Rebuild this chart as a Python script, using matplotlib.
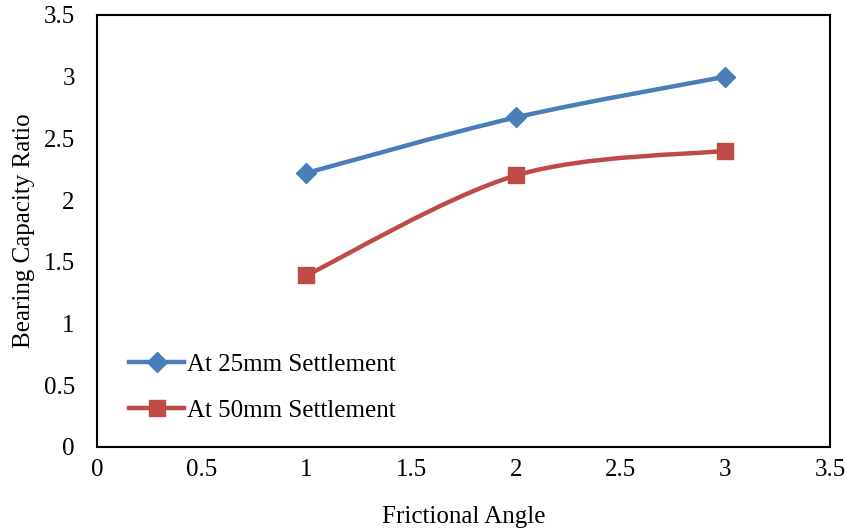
import numpy as np
import matplotlib
matplotlib.use("Agg")
import matplotlib.pyplot as plt
from matplotlib.path import Path
from matplotlib.patches import PathPatch
from matplotlib.lines import Line2D

plt.rcParams['font.family'] = ['Liberation Serif', 'DejaVu Serif']

angle = [1, 2, 3]
ratio_25mm = [2.22, 2.67, 3.0]
ratio_50mm = [1.39, 2.2, 2.4]
series_names = ["At 25mm Settlement", "At 50mm Settlement"]
xticks = [0, 0.5, 1, 1.5, 2, 2.5, 3, 3.5]
yticks = [0, 0.5, 1, 1.5, 2, 2.5, 3, 3.5]

BLUE = "#4A7EBB"
RED = "#BE4B48"
FS = 18
LW = 3.2


def smooth_path(xs, ys):
    """Catmull-Rom style cubic Bezier through the points (spreadsheet smoothing)."""
    pts = np.column_stack([xs, ys]).astype(float)
    n = len(pts)
    verts = [pts[0]]
    codes = [Path.MOVETO]
    for i in range(n - 1):
        p0 = pts[i - 1] if i > 0 else pts[i]
        p1 = pts[i]
        p2 = pts[i + 1]
        p3 = pts[i + 2] if i + 2 < n else pts[i + 1]
        c1 = p1 + (p2 - p0) / 6.0
        c2 = p2 - (p3 - p1) / 6.0
        verts += [c1, c2, p2]
        codes += [Path.CURVE4] * 3
    return Path(verts, codes)


fig = plt.figure(figsize=(8.48, 5.31), dpi=100)
ax = fig.add_axes([0.1144, 0.1582, 0.8644, 0.8136])

for ys, color, marker, ms in [(ratio_25mm, BLUE, "D", 10), (ratio_50mm, RED, "s", 12)]:
    ax.add_patch(PathPatch(smooth_path(angle, ys), facecolor="none",
                           edgecolor=color, lw=LW, capstyle="round", zorder=2))
    ax.plot(angle, ys, linestyle="none", marker=marker, ms=ms,
            color=color, mec=color, zorder=3)

ax.set_xlim(0, 3.5)
ax.set_ylim(0, 3.5)
ax.set_xticks(xticks)
ax.set_yticks(yticks)
ax.set_xticklabels([f"{t:g}" for t in xticks])
ax.set_yticklabels([f"{t:g}" for t in yticks])
ax.tick_params(axis="both", length=0, labelsize=FS)
ax.tick_params(axis="y", pad=16)
ax.tick_params(axis="x", pad=9)
for s in ax.spines.values():
    s.set_linewidth(1.5)
    s.set_color("black")

ax.set_xlabel("Frictional Angle", fontsize=FS, labelpad=18)
ax.set_ylabel("Bearing Capacity Ratio", fontsize=FS, labelpad=6)

handles = [
    Line2D([], [], color=BLUE, lw=LW, marker="D", ms=10),
    Line2D([], [], color=RED, lw=LW, marker="s", ms=12),
]
ax.legend(handles, series_names, loc="lower left", bbox_to_anchor=(0.01, 0.0),
          frameon=False, fontsize=FS, handlelength=2.2, handletextpad=0.1,
          labelspacing=0.95, borderaxespad=0.6)

fig.savefig("out.png", dpi=100)
